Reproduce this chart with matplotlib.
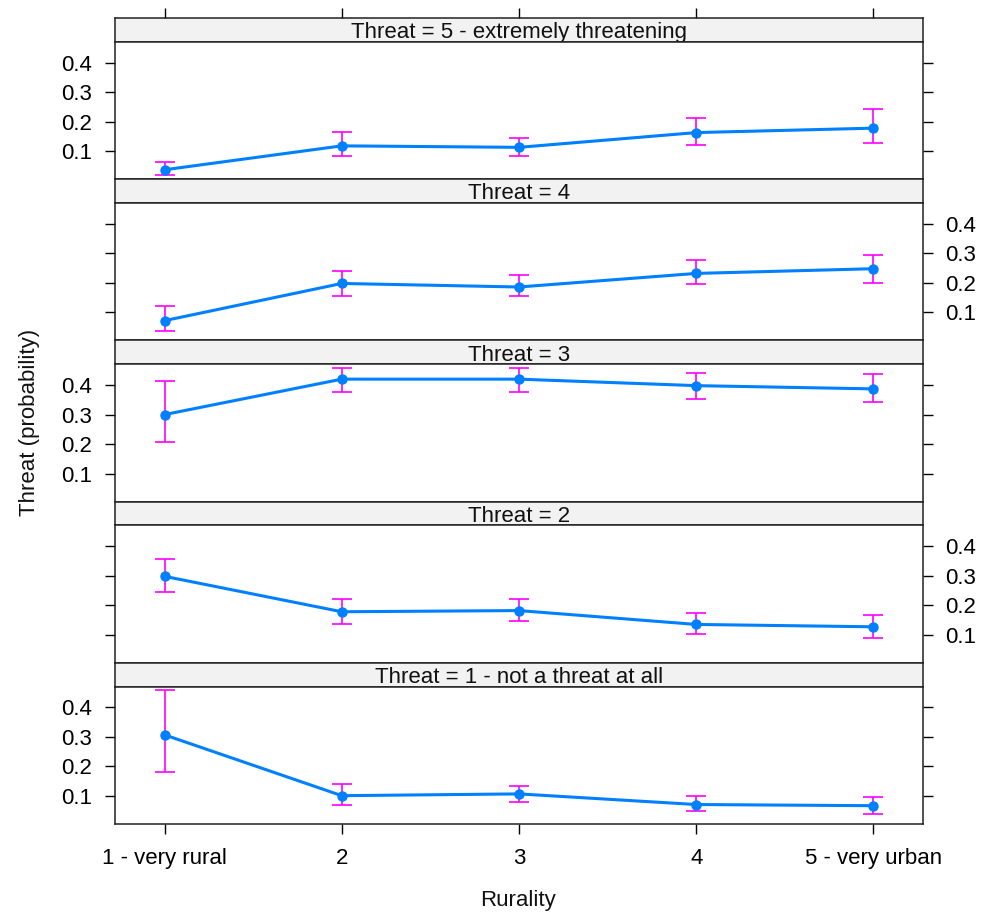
import matplotlib
matplotlib.use('Agg')
import matplotlib.pyplot as plt
import numpy as np

plt.rcParams['font.family'] = ['Liberation Sans', 'DejaVu Sans']

# ---------------- data ----------------
rurality_labels = ['1 - very rural', '2', '3', '4', '5 - very urban']
rurality = [1, 2, 3, 4, 5]

strip_labels = ['Threat = 5 - extremely threatening', 'Threat = 4', 'Threat = 3',
                'Threat = 2', 'Threat = 1 - not a threat at all']

fit_5 = [0.037, 0.118, 0.113, 0.163, 0.178]
lo_5 = [0.019, 0.085, 0.085, 0.121, 0.129]
hi_5 = [0.064, 0.166, 0.146, 0.211, 0.242]

fit_4 = [0.072, 0.198, 0.186, 0.232, 0.248]
lo_4 = [0.038, 0.154, 0.154, 0.195, 0.200]
hi_4 = [0.122, 0.241, 0.225, 0.276, 0.295]

fit_3 = [0.300, 0.420, 0.420, 0.398, 0.387]
lo_3 = [0.206, 0.377, 0.377, 0.353, 0.341]
hi_3 = [0.414, 0.458, 0.457, 0.442, 0.437]

fit_2 = [0.298, 0.178, 0.182, 0.135, 0.127]
lo_2 = [0.244, 0.135, 0.145, 0.103, 0.089]
hi_2 = [0.356, 0.222, 0.222, 0.175, 0.168]

fit_1 = [0.307, 0.101, 0.107, 0.071, 0.067]
lo_1 = [0.182, 0.070, 0.079, 0.048, 0.040]
hi_1 = [0.460, 0.140, 0.135, 0.100, 0.097]

panels = [(fit_5, lo_5, hi_5), (fit_4, lo_4, hi_4), (fit_3, lo_3, hi_3),
          (fit_2, lo_2, hi_2), (fit_1, lo_1, hi_1)]
yticks = [0.1, 0.2, 0.3, 0.4]

# ---------------- layout ----------------
W, H = 990, 913
fig = plt.figure(figsize=(W / 100, H / 100), dpi=100)

x0, x1 = 115, 923
top, bottom = 18, 824
unit = (bottom - top) / 5.0
strip_h = 23.7

line_col = '#0080FF'
err_col = '#FF00FF'
strip_col = '#F2F2F2'
fs = 16
xlim = (0.72, 5.28)
ylim = (0.005, 0.471)

for i, ((fit, lo, hi), lab) in enumerate(zip(panels, strip_labels)):
    s_top = top + i * unit
    s_bot = s_top + strip_h
    p_bot = s_top + unit
    # strip
    sax = fig.add_axes([x0 / W, 1 - s_bot / H, (x1 - x0) / W, strip_h / H])
    sax.set_facecolor(strip_col)
    sax.set_xlim(xlim)
    sax.set_ylim(0, 1)
    sax.set_yticks([])
    sax.text(0.5, 0.38, lab, transform=sax.transAxes, ha='center', va='center',
             fontsize=fs, color='#111111')
    for sp in sax.spines.values():
        sp.set_color('#222222')
        sp.set_linewidth(1.1)
    if i == 0:
        sax.set_xticks(rurality)
        sax.tick_params(axis='x', bottom=False, top=True, labelbottom=False,
                        labeltop=False, direction='out', length=7.2, width=1.0)
    else:
        sax.set_xticks([])

    # panel
    ax = fig.add_axes([x0 / W, 1 - p_bot / H, (x1 - x0) / W, (p_bot - s_bot) / H])
    ax.set_xlim(xlim)
    ax.set_ylim(ylim)
    fit = np.array(fit)
    lo = np.array(lo)
    hi = np.array(hi)
    ax.plot(rurality, fit, color=line_col, lw=2.2, zorder=3)
    ax.errorbar(rurality, fit, yerr=[fit - lo, hi - fit], fmt='none',
                ecolor=err_col, elinewidth=1.2, capsize=7.5, capthick=1.2, zorder=2)
    ax.plot(rurality, fit, 'o', color=line_col, ms=6.5, zorder=4)
    ax.set_yticks(yticks)
    ax.set_yticklabels(['0.1', '0.2', '0.3', '0.4'])
    left_labels = (i % 2 == 0)
    ax.tick_params(axis='y', left=True, right=True, labelleft=left_labels,
                   labelright=not left_labels, direction='out', length=7.2,
                   width=1.0, labelsize=fs, pad=9)
    if i == 4:
        ax.set_xticks(rurality)
        ax.set_xticklabels(rurality_labels)
        ax.tick_params(axis='x', direction='out', length=7.2, width=1.0,
                       labelsize=fs, pad=10)
    else:
        ax.set_xticks([])
    for sp in ax.spines.values():
        sp.set_color('#222222')
        sp.set_linewidth(1.1)

fig.text(30 / W, 1 - 422 / H, 'Threat (probability)', rotation=90, ha='center',
         va='center', fontsize=fs, color='#111111')
fig.text(518 / W, 1 - 906 / H, 'Rurality', ha='center', va='baseline',
         fontsize=fs, color='#111111')

fig.savefig('out.png', dpi=100)
